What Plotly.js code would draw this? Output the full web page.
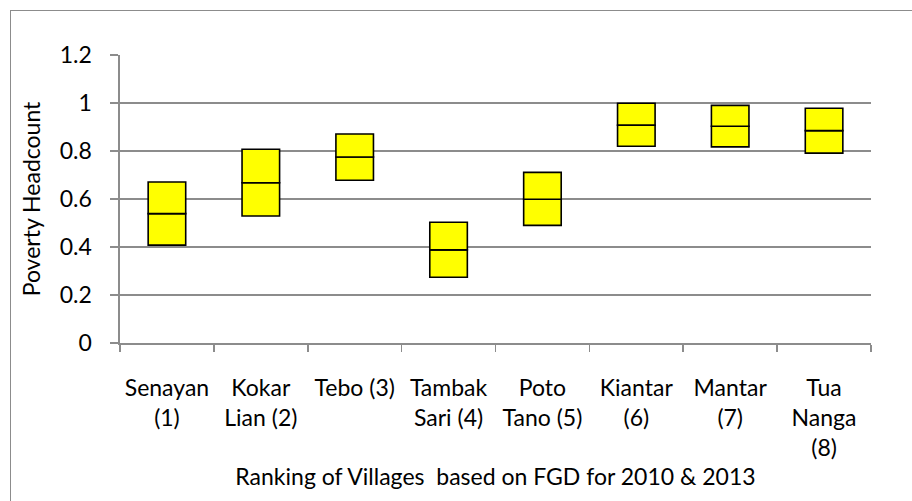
<!DOCTYPE html>
<html>
<head>
<meta charset="utf-8">
<script src="https://cdn.plot.ly/plotly-3.0.1.min.js"></script>
<style>
  html, body { margin: 0; padding: 0; background: #ffffff; }
  #wrap { position: relative; width: 912px; height: 501px; overflow: hidden; }
  #chart { width: 912px; height: 501px; }
  #frame { position: absolute; left: 10px; top: 10px; width: 1000px; height: 1000px;
           border: 1.5px solid #8c8c8c; box-sizing: border-box; pointer-events: none; }
</style>
</head>
<body>
<div id="wrap">
  <div id="chart"></div>
  <div id="frame"></div>
</div>
<script>
// Villages (tick labels) and their low / middle / high poverty headcount values
const categories = [
  "Senayan<br>(1)",
  "Kokar<br>Lian (2)",
  "Tebo (3)",
  "Tambak<br>Sari (4)",
  "Poto<br>Tano (5)",
  "Kiantar<br>(6)",
  "Mantar<br>(7)",
  "Tua<br>Nanga<br>(8)"
];
const lowValues  = [0.408, 0.529, 0.678, 0.274, 0.490, 0.820, 0.817, 0.791];
const midValues  = [0.539, 0.668, 0.775, 0.388, 0.599, 0.908, 0.903, 0.885];
const highValues = [0.671, 0.807, 0.871, 0.503, 0.711, 0.999, 0.990, 0.978];
const yTickValues = [0, 0.2, 0.4, 0.6, 0.8, 1.0, 1.2];
const yTickLabels = ["0", "0.2", "0.4", "0.6", "0.8", "1", "1.2"];

const FONT = "Lato, 'Open Sans', sans-serif";
const boxStyle = { color: "#FFFF00", line: { color: "#000000", width: 1.6 } };

const lowerPart = {
  type: "bar",
  x: categories,
  base: lowValues,
  y: lowValues.map((v, i) => midValues[i] - v),
  width: 0.4,
  marker: boxStyle,
  hoverinfo: "skip",
  showlegend: false
};
const upperPart = {
  type: "bar",
  x: categories,
  base: midValues,
  y: highValues.map((v, i) => v - midValues[i]),
  width: 0.4,
  marker: boxStyle,
  hoverinfo: "skip",
  showlegend: false
};

const layout = {
  width: 912,
  height: 501,
  margin: { l: 120, r: 41, t: 55, b: 158, pad: 0 },
  paper_bgcolor: "#ffffff",
  plot_bgcolor: "#ffffff",
  barmode: "overlay",
  font: { family: FONT, size: 23, color: "#000000" },
  showlegend: false,
  xaxis: {
    type: "category",
    range: [-0.5, 7.5],
    showgrid: false,
    showline: true,
    linecolor: "#8c8c8c",
    linewidth: 1.6,
    ticks: "outside",
    tickson: "boundaries",
    ticklen: 7,
    tickwidth: 1.6,
    tickcolor: "#8c8c8c",
    tickangle: 0,
    ticklabelstandoff: 24,
    tickfont: { family: FONT, size: 23, color: "#000000" },
    zeroline: false,
    automargin: false,
    title: {
      text: "Ranking of Villages&nbsp; based on FGD for 2010 &amp; 2013",
      font: { family: FONT, size: 23, color: "#000000" },
      standoff: 9
    }
  },
  yaxis: {
    range: [0, 1.2],
    tickmode: "array",
    tickvals: yTickValues,
    ticktext: yTickLabels,
    showgrid: true,
    gridcolor: "#8c8c8c",
    gridwidth: 1.6,
    showline: true,
    linecolor: "#8c8c8c",
    linewidth: 1.6,
    ticks: "outside",
    ticklen: 8,
    tickwidth: 1.6,
    tickcolor: "#8c8c8c",
    ticklabelstandoff: 14,
    tickfont: { family: FONT, size: 23, color: "#000000" },
    zeroline: false,
    automargin: false,
    title: {
      text: "Poverty Headcount",
      font: { family: FONT, size: 23, color: "#000000" },
      standoff: 12
    }
  }
};

Plotly.newPlot("chart", [lowerPart, upperPart], layout, { staticPlot: true, displayModeBar: false });
</script>
</body>
</html>
